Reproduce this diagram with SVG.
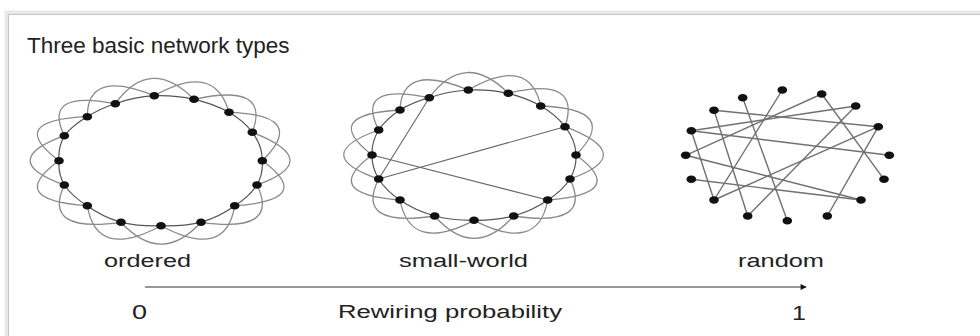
<svg xmlns="http://www.w3.org/2000/svg" width="980" height="336" viewBox="0 0 980 336">
<style>
.lobe{fill:none;stroke:#8a8a8a;stroke-width:1.3}
.ring{fill:none;stroke:#555;stroke-width:1.2}
.rw{fill:none;stroke:#666;stroke-width:1.1}
.rnd{fill:none;stroke:#707070;stroke-width:1.4}
.dot{fill:#111}
.lbl{font-family:"Liberation Sans",Arial,sans-serif;fill:#222}
</style>
<defs>
<marker id="ah" viewBox="0 0 10 10" refX="9" refY="5" markerWidth="12" markerHeight="6" orient="auto" markerUnits="userSpaceOnUse"><path d="M0,0 L10,5 L0,10 Z" fill="#111"/></marker>
</defs>
<rect x="0" y="0" width="980" height="336" fill="#fff"/>
<path d="M6.5,336 V12.5 H980" stroke="#e8e8e8" stroke-width="4" fill="none"/>
<path d="M8.5,336 V14.5 H980" stroke="#c4c4c4" stroke-width="1" fill="none"/>
<text class="lbl" x="27" y="53" font-size="22.5" fill="#111">Three basic network types</text>

<g id="connectors">
<g id="ordered-edges">
<path class="ring" d="M154.3,95.7 A102,65 0 0 1 194,99.3 A102,65 0 0 1 229,112.3 A102,65 0 0 1 252.3,132.3 A102,65 0 0 1 262.3,160.7 A102,65 0 0 1 257,185 A102,65 0 0 1 234.7,205.7 A102,65 0 0 1 201,222.3 A102,65 0 0 1 161,225.7 A102,65 0 0 1 121,222.3 A102,65 0 0 1 87.3,205.7 A102,65 0 0 1 64.3,185 A102,65 0 0 1 59,160.7 A102,65 0 0 1 64.3,135.7 A102,65 0 0 1 87.3,116.7 A102,65 0 0 1 115.3,103.7 A102,65 0 0 1 154.3,95.7"/>
<path class="lobe" d="M115.3,103.7 Q150.3,55.4 194,99.3"/>
<path class="lobe" d="M154.3,95.7 Q214.7,61.2 229,112.3"/>
<path class="lobe" d="M194,99.3 Q271.4,82.3 252.3,132.3"/>
<path class="lobe" d="M229,112.3 Q309.1,114.7 262.3,160.7"/>
<path class="lobe" d="M252.3,132.3 Q325.3,160.7 257,185"/>
<path class="lobe" d="M262.3,160.7 Q316.7,200.1 234.7,205.7"/>
<path class="lobe" d="M257,185 Q280.6,233.6 201,222.3"/>
<path class="lobe" d="M234.7,205.7 Q226,260.5 161,225.7"/>
<path class="lobe" d="M201,222.3 Q161.2,266 121,222.3"/>
<path class="lobe" d="M161,225.7 Q96.4,260.5 87.3,205.7"/>
<path class="lobe" d="M121,222.3 Q41.8,233.6 64.3,185"/>
<path class="lobe" d="M87.3,205.7 Q4.5,200.1 59,160.7"/>
<path class="lobe" d="M64.3,185 Q-4.1,160.7 64.3,135.7"/>
<path class="lobe" d="M59,160.7 Q4.5,120.2 87.3,116.7"/>
<path class="lobe" d="M64.3,135.7 Q41.8,89.4 115.3,103.7"/>
<path class="lobe" d="M87.3,116.7 Q87.2,68.4 154.3,95.7"/>
</g>
<g id="smallworld-edges">
<path class="ring" d="M468.3,90 A102,65 0 0 1 508.3,93.3 A102,65 0 0 1 540.7,106 A102,65 0 0 1 565,126.7 A102,65 0 0 1 576,155 A102,65 0 0 1 570,179 A102,65 0 0 1 547.7,200 A102,65 0 0 1 513.7,216 A102,65 0 0 1 474,220.3 A102,65 0 0 1 434.7,216 A102,65 0 0 1 400,200 A102,65 0 0 1 378.7,179 A102,65 0 0 1 372,155 A102,65 0 0 1 378.7,130 A102,65 0 0 1 400,110 A102,65 0 0 1 429.3,97.7 A102,65 0 0 1 468.3,90"/>
<path class="lobe" d="M429.3,97.7 Q464.8,49.6 508.3,93.3"/>
<path class="lobe" d="M468.3,90 Q529.6,54.9 540.7,106"/>
<path class="lobe" d="M508.3,93.3 Q582.1,75.5 565,126.7"/>
<path class="lobe" d="M540.7,106 Q621.4,109 576,155"/>
<path class="lobe" d="M565,126.7 Q639.2,154.9 570,179"/>
<path class="lobe" d="M576,155 Q629.5,193.8 547.7,200"/>
<path class="lobe" d="M570,179 Q593.4,227.8 513.7,216"/>
<path class="lobe" d="M547.7,200 Q538.3,253.7 474,220.3"/>
<path class="lobe" d="M513.7,216 Q474,260.7 434.7,216"/>
<path class="lobe" d="M474,220.3 Q410.3,253.7 400,200"/>
<path class="lobe" d="M434.7,216 Q354.1,227.8 378.7,179"/>
<path class="lobe" d="M400,200 Q319.6,193.8 372,155"/>
<path class="lobe" d="M378.7,179 Q308.8,154.9 378.7,130"/>
<path class="lobe" d="M372,155 Q319.6,114.4 400,110"/>
<path class="lobe" d="M378.7,130 Q354.1,82 429.3,97.7"/>
<path class="lobe" d="M400,110 Q401.6,62.1 468.3,90"/>
<path class="rw" d="M429.3,97.7 L378.7,179"/>
<path class="rw" d="M378.7,179 L565,126.7"/>
<path class="rw" d="M372,155 L547.7,200"/>
</g>
<g id="random-edges">
<path class="rnd" d="M714,110.3 L878.3,126.7"/>
<path class="rnd" d="M691.3,130.7 L855.7,106"/>
<path class="rnd" d="M691.3,130.7 L889.3,155.3"/>
<path class="rnd" d="M782.3,90 L714,200"/>
<path class="rnd" d="M821.7,94 L884,179.3"/>
<path class="rnd" d="M742.7,97.7 L787.3,220.7"/>
<path class="rnd" d="M714,110.3 L747.7,216"/>
<path class="rnd" d="M691.3,130.7 L714,200"/>
<path class="rnd" d="M685.7,155.3 L861,200"/>
<path class="rnd" d="M691.3,179.3 L861,200"/>
<path class="rnd" d="M855.7,106 L747.7,216"/>
<path class="rnd" d="M878.3,126.7 L827.3,216"/>
<path class="rnd" d="M821.7,94 L685.7,155.3"/>
<path class="rnd" d="M878.3,126.7 L714,200"/>
</g>
<g id="axis">
<line x1="145" y1="287" x2="806" y2="287" stroke="#333" stroke-width="1.2" marker-end="url(#ah)"/>
</g>
</g>

<g id="ordered-nodes">
<g id="o0"><ellipse class="dot" cx="154.3" cy="95.7" rx="4.8" ry="3.8"/></g>
<g id="o1"><ellipse class="dot" cx="194" cy="99.3" rx="4.8" ry="3.8"/></g>
<g id="o2"><ellipse class="dot" cx="229" cy="112.3" rx="4.8" ry="3.8"/></g>
<g id="o3"><ellipse class="dot" cx="252.3" cy="132.3" rx="4.8" ry="3.8"/></g>
<g id="o4"><ellipse class="dot" cx="262.3" cy="160.7" rx="4.8" ry="3.8"/></g>
<g id="o5"><ellipse class="dot" cx="257" cy="185" rx="4.8" ry="3.8"/></g>
<g id="o6"><ellipse class="dot" cx="234.7" cy="205.7" rx="4.8" ry="3.8"/></g>
<g id="o7"><ellipse class="dot" cx="201" cy="222.3" rx="4.8" ry="3.8"/></g>
<g id="o8"><ellipse class="dot" cx="161" cy="225.7" rx="4.8" ry="3.8"/></g>
<g id="o9"><ellipse class="dot" cx="121" cy="222.3" rx="4.8" ry="3.8"/></g>
<g id="o10"><ellipse class="dot" cx="87.3" cy="205.7" rx="4.8" ry="3.8"/></g>
<g id="o11"><ellipse class="dot" cx="64.3" cy="185" rx="4.8" ry="3.8"/></g>
<g id="o12"><ellipse class="dot" cx="59" cy="160.7" rx="4.8" ry="3.8"/></g>
<g id="o13"><ellipse class="dot" cx="64.3" cy="135.7" rx="4.8" ry="3.8"/></g>
<g id="o14"><ellipse class="dot" cx="87.3" cy="116.7" rx="4.8" ry="3.8"/></g>
<g id="o15"><ellipse class="dot" cx="115.3" cy="103.7" rx="4.8" ry="3.8"/></g>
</g>
<g id="smallworld-nodes">
<g id="s0"><ellipse class="dot" cx="468.3" cy="90" rx="4.8" ry="3.8"/></g>
<g id="s1"><ellipse class="dot" cx="508.3" cy="93.3" rx="4.8" ry="3.8"/></g>
<g id="s2"><ellipse class="dot" cx="540.7" cy="106" rx="4.8" ry="3.8"/></g>
<g id="s3"><ellipse class="dot" cx="565" cy="126.7" rx="4.8" ry="3.8"/></g>
<g id="s4"><ellipse class="dot" cx="576" cy="155" rx="4.8" ry="3.8"/></g>
<g id="s5"><ellipse class="dot" cx="570" cy="179" rx="4.8" ry="3.8"/></g>
<g id="s6"><ellipse class="dot" cx="547.7" cy="200" rx="4.8" ry="3.8"/></g>
<g id="s7"><ellipse class="dot" cx="513.7" cy="216" rx="4.8" ry="3.8"/></g>
<g id="s8"><ellipse class="dot" cx="474" cy="220.3" rx="4.8" ry="3.8"/></g>
<g id="s9"><ellipse class="dot" cx="434.7" cy="216" rx="4.8" ry="3.8"/></g>
<g id="s10"><ellipse class="dot" cx="400" cy="200" rx="4.8" ry="3.8"/></g>
<g id="s11"><ellipse class="dot" cx="378.7" cy="179" rx="4.8" ry="3.8"/></g>
<g id="s12"><ellipse class="dot" cx="372" cy="155" rx="4.8" ry="3.8"/></g>
<g id="s13"><ellipse class="dot" cx="378.7" cy="130" rx="4.8" ry="3.8"/></g>
<g id="s14"><ellipse class="dot" cx="400" cy="110" rx="4.8" ry="3.8"/></g>
<g id="s15"><ellipse class="dot" cx="429.3" cy="97.7" rx="4.8" ry="3.8"/></g>
</g>
<g id="random-nodes">
<g id="r0"><ellipse class="dot" cx="782.3" cy="90" rx="4.8" ry="3.8"/></g>
<g id="r1"><ellipse class="dot" cx="821.7" cy="94" rx="4.8" ry="3.8"/></g>
<g id="r2"><ellipse class="dot" cx="855.7" cy="106" rx="4.8" ry="3.8"/></g>
<g id="r3"><ellipse class="dot" cx="878.3" cy="126.7" rx="4.8" ry="3.8"/></g>
<g id="r4"><ellipse class="dot" cx="889.3" cy="155.3" rx="4.8" ry="3.8"/></g>
<g id="r5"><ellipse class="dot" cx="884" cy="179.3" rx="4.8" ry="3.8"/></g>
<g id="r6"><ellipse class="dot" cx="861" cy="200" rx="4.8" ry="3.8"/></g>
<g id="r7"><ellipse class="dot" cx="827.3" cy="216" rx="4.8" ry="3.8"/></g>
<g id="r8"><ellipse class="dot" cx="787.3" cy="220.7" rx="4.8" ry="3.8"/></g>
<g id="r9"><ellipse class="dot" cx="747.7" cy="216" rx="4.8" ry="3.8"/></g>
<g id="r10"><ellipse class="dot" cx="714" cy="200" rx="4.8" ry="3.8"/></g>
<g id="r11"><ellipse class="dot" cx="691.3" cy="179.3" rx="4.8" ry="3.8"/></g>
<g id="r12"><ellipse class="dot" cx="685.7" cy="155.3" rx="4.8" ry="3.8"/></g>
<g id="r13"><ellipse class="dot" cx="691.3" cy="130.7" rx="4.8" ry="3.8"/></g>
<g id="r14"><ellipse class="dot" cx="714" cy="110.3" rx="4.8" ry="3.8"/></g>
<g id="r15"><ellipse class="dot" cx="742.7" cy="97.7" rx="4.8" ry="3.8"/></g>
</g>

<g id="labels">
<text class="lbl" x="104" y="267" font-size="18" textLength="87" lengthAdjust="spacingAndGlyphs">ordered</text>
<text class="lbl" x="399" y="267" font-size="18" textLength="129" lengthAdjust="spacingAndGlyphs">small-world</text>
<text class="lbl" x="738" y="267" font-size="18" textLength="86" lengthAdjust="spacingAndGlyphs">random</text>
<text class="lbl" x="132" y="319" font-size="20" textLength="15" lengthAdjust="spacingAndGlyphs">0</text>
<text class="lbl" x="338" y="318" font-size="18" textLength="224" lengthAdjust="spacingAndGlyphs">Rewiring probability</text>
<text class="lbl" x="792" y="320" font-size="20" textLength="14" lengthAdjust="spacingAndGlyphs">1</text>
</g>
</svg>
